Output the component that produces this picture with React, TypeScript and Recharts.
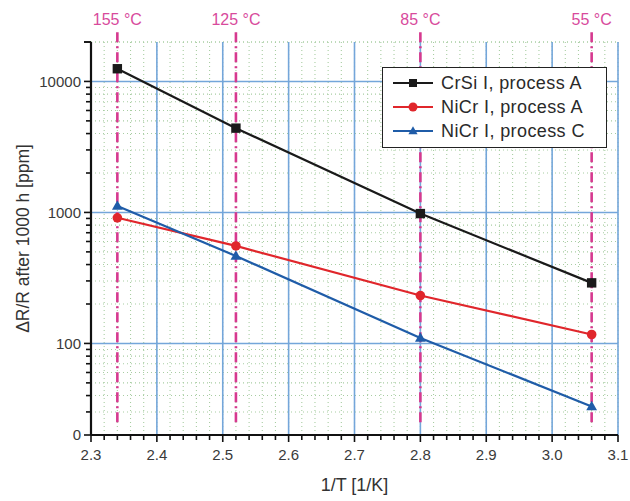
import React from 'react';
import {
  LineChart, Line, XAxis, YAxis, CartesianGrid, ReferenceLine, Legend,
} from 'recharts';

// ---- data ----
const invT = [2.34, 2.52, 2.80, 3.06];
const crsiA = [12500, 4400, 980, 290];
const nicrA = [910, 555, 232, 117];
const nicrC = [1120, 465, 110, 33];

const tempX = [2.34, 2.52, 2.80, 3.06];
const tempLabels = ['155 °C', '125 °C', '85 °C', '55 °C'];

const xMajor = [2.3, 2.4, 2.5, 2.6, 2.7, 2.8, 2.9, 3.0, 3.1];
const xMajorLabels = ['2.3', '2.4', '2.5', '2.6', '2.7', '2.8', '2.9', '3.0', '3.1'];
const yMajor = [20, 100, 1000, 10000];
const yMajorLabels = ['0', '100', '1000', '10000'];
const yGridMajor = [100, 1000, 10000];
const xGridMajor = [2.4, 2.5, 2.6, 2.7, 2.8, 2.9, 3.0, 3.1];

const seriesNames = ['CrSi I, process A', 'NiCr I, process A', 'NiCr I, process C'];
const seriesColors = ['#1a1a1a', '#e0262b', '#1f5ca8'];

const data = invT.map((x, i) => ({ x, a: crsiA[i], b: nicrA[i], c: nicrC[i] }));

const xTicks: number[] = [];
for (let i = 0; i <= 40; i++) xTicks.push(Math.round((2.3 + i * 0.02) * 100) / 100);
const yTicks: number[] = [];
[10, 100, 1000, 10000].forEach((d) => {
  for (let m = 1; m <= 9; m++) {
    const v = d * m;
    if (v >= 20 && v <= 20000) yTicks.push(v);
  }
});
yTicks.push(20000);

const FONT = '"Liberation Sans", Arial, Helvetica, sans-serif';
const PINK = '#d6398f';
const GRID_BLUE = '#74a6da';

const XTick = (props: any) => {
  const { x, y, payload } = props;
  const v = payload.value;
  const idx = xMajor.findIndex((m) => Math.abs(m - v) < 1e-6);
  const major = idx >= 0;
  return (
    <g>
      <line x1={x} x2={x} y1={y} y2={y + (major ? 7 : 5)} stroke="#111" strokeWidth={1.6} />
      {major && (
        <text x={x} y={y + 20} dy="0.35em" textAnchor="middle" fontSize={15} fill="#3a3a3a" fontFamily={FONT}>
          {xMajorLabels[idx]}
        </text>
      )}
    </g>
  );
};

const YTick = (props: any) => {
  const { x, y, payload } = props;
  const v = payload.value;
  const idx = yMajor.indexOf(v);
  const major = idx >= 0 || v === 20000;
  return (
    <g>
      <line x1={x} x2={x - (major ? 7 : 5)} y1={y} y2={y} stroke="#111" strokeWidth={1.6} />
      {idx >= 0 && (
        <text x={x - 10} y={y} dy="0.35em" textAnchor="end" fontSize={15} fill="#3a3a3a" fontFamily={FONT}>
          {yMajorLabels[idx]}
        </text>
      )}
    </g>
  );
};

const Marker = ({ kind, cx, cy, color, s }: any) => {
  if (kind === 0) return <rect x={cx - s} y={cy - s} width={2 * s} height={2 * s} fill={color} />;
  if (kind === 1) return <circle cx={cx} cy={cy} r={s} fill={color} />;
  return <polygon points={`${cx},${cy - s * 1.2} ${cx - s * 1.15},${cy + s * 0.8} ${cx + s * 1.15},${cy + s * 0.8}`} fill={color} />;
};

const makeDot = (kind: number, color: string) => (p: any) => {
  const { cx, cy, index } = p;
  if (cx == null || cy == null) return <g key={index} />;
  return <Marker key={index} kind={kind} cx={cx} cy={cy} color={color} s={kind === 1 ? 4.8 : 4.7} />;
};

const LegendBox = () => (
  <div
    style={{
      width: 225, height: 81, border: '1.5px solid #222', background: '#fff',
      boxSizing: 'border-box', fontFamily: FONT, fontSize: 18, letterSpacing: 0.4, color: '#2a2a2a', paddingTop: 3,
    }}
  >
    {seriesNames.map((n, i) => (
      <div key={n} style={{ display: 'flex', alignItems: 'center', height: 24 }}>
        <svg width={56} height={20} style={{ flex: 'none' }}>
          <line x1={10} x2={50} y1={10} y2={10} stroke={seriesColors[i]} strokeWidth={2} />
          <Marker kind={i} cx={30} cy={10} color={seriesColors[i]} s={i === 1 ? 4.5 : 4} />
        </svg>
        <span style={{ marginLeft: 2, whiteSpace: 'nowrap' }}>{n}</span>
      </div>
    ))}
  </div>
);

export default function App() {
  return (
    <div style={{ position: 'absolute', left: 0, top: 0, width: 630, height: 501, background: '#fff' }}>
      <LineChart width={630} height={501} data={data} margin={{ top: 0, right: 12, bottom: 0, left: 0 }}>
        <CartesianGrid stroke="#a8cda2" strokeDasharray="1 3" strokeWidth={1.1} />
        <XAxis
          dataKey="x" type="number" domain={[2.3, 3.1]} ticks={xTicks} interval={0}
          tick={<XTick />} tickLine={false} tickSize={0} tickMargin={0} height={66}
          axisLine={{ stroke: '#111', strokeWidth: 2.2 }} allowDataOverflow
          label={{ value: '1/T [1/K]', position: 'insideBottom', offset: 10, fontSize: 18, fill: '#333', fontFamily: FONT }}
        />
        <XAxis
          xAxisId="top" orientation="top" dataKey="x" type="number" domain={[2.3, 3.1]} allowDataOverflow
          ticks={tempX} interval={0}
          tickFormatter={(v: number) => tempLabels[tempX.indexOf(v)]} height={42}
          axisLine={false} tickLine={false} tickSize={0} tickMargin={17}
          tick={{ fill: '#d84a9c', fontSize: 16, fontFamily: FONT }}
        />
        <YAxis
          type="number" scale="log" domain={[20, 20000]} ticks={yTicks} interval={0} allowDataOverflow
          tick={<YTick />} tickLine={false} tickSize={0} tickMargin={0} width={91}
          axisLine={{ stroke: '#111', strokeWidth: 2.2 }}
          label={{ value: 'ΔR/R after 1000 h [ppm]', angle: -90, position: 'center', dx: -23, fontSize: 17.5, fill: '#333', fontFamily: FONT }}
        />
        {xGridMajor.map((v) => (
          <ReferenceLine key={'vx' + v} x={v} stroke={GRID_BLUE} strokeWidth={1.6} />
        ))}
        {yGridMajor.map((v) => (
          <ReferenceLine key={'hy' + v} y={v} stroke={GRID_BLUE} strokeWidth={1.6} />
        ))}
        {tempX.map((v) => (
          <ReferenceLine
            key={'t' + v} ifOverflow="visible"
            segment={[{ x: v, y: 25 }, { x: v, y: 24000 }]}
            stroke={PINK} strokeWidth={2.6} strokeDasharray="10 4 2 4"
          />
        ))}
        <Line dataKey="a" name={seriesNames[0]} stroke={seriesColors[0]} strokeWidth={2.2} dot={makeDot(0, seriesColors[0])} isAnimationActive={false} />
        <Line dataKey="b" name={seriesNames[1]} stroke={seriesColors[1]} strokeWidth={2.2} dot={makeDot(1, seriesColors[1])} isAnimationActive={false} />
        <Line dataKey="c" name={seriesNames[2]} stroke={seriesColors[2]} strokeWidth={2.2} dot={makeDot(2, seriesColors[2])} isAnimationActive={false} />
        <Legend
          content={<LegendBox />} layout="horizontal" verticalAlign="middle" align="center"
          wrapperStyle={{ position: 'absolute', left: 382, top: 67, width: 225, height: 81 }}
        />
      </LineChart>
    </div>
  );
}
